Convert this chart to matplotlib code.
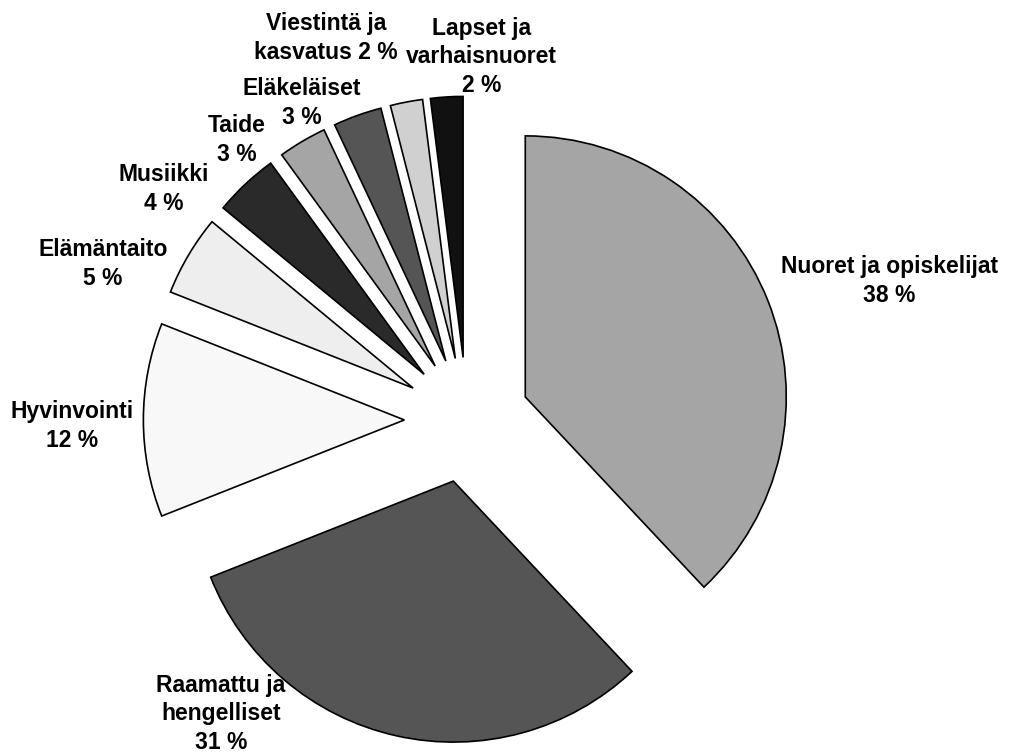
import numpy as np
import matplotlib
matplotlib.use("Agg")
import matplotlib.pyplot as plt

# Data
names = ["Nuoret ja opiskelijat", "Raamattu ja\nhengelliset", "Hyvinvointi",
         "Elämäntaito", "Musiikki", "Taide", "Eläkeläiset",
         "Viestintä ja\nkasvatus", "Lapset ja\nvarhaisnuoret"]
shares = [38, 31, 12, 5, 4, 3, 3, 2, 2]
# how the percent is joined to the name (newline or space)
pct_sep = ["\n", "\n", "\n", "\n", "\n", "\n", "\n", " ", "\n"]

colors = ["#a5a5a5", "#555555", "#f8f8f8", "#eeeeee", "#2a2a2a",
          "#a5a5a5", "#555555", "#d0d0d0", "#111111"]

# label positions (pie radius units, pie centre at 0,0)
label_xy = [(1.617, 0.533), (-0.943, -1.126), (-1.513, -0.023),
            (-1.395, 0.598), (-1.161, 0.885), (-0.881, 1.073),
            (-0.632, 1.215), (-0.540, 1.464), (0.057, 1.391)]

LINE_PT = 20.5  # line step in points

fig = plt.figure(figsize=(10.1, 7.53), dpi=100)
ax = fig.add_axes([0, 0, 1, 1])

ax.pie(shares, colors=colors, startangle=90, counterclock=False,
       explode=[0.24] * len(shares), radius=1.0,
       wedgeprops=dict(edgecolor="black", linewidth=1.2))

# each line drawn on its own so the boxes stay tight
for name, v, sep, (x, y) in zip(names, shares, pct_sep, label_xy):
    lines = f"{name}{sep}{v} %".split("\n")
    n = len(lines)
    for i, line in enumerate(lines):
        off = ((n - 1) / 2 - i) * LINE_PT
        ax.annotate(line, (x, y), xytext=(0, off), textcoords="offset points",
                    ha="center", va="center", fontsize=16.5,
                    fontweight="bold", family="Liberation Sans")

ax.set_xlim(-1.789, 2.080)
ax.set_ylim(-1.276, 1.609)
ax.set_aspect("equal")
ax.axis("off")

fig.savefig("out.png", dpi=100)
